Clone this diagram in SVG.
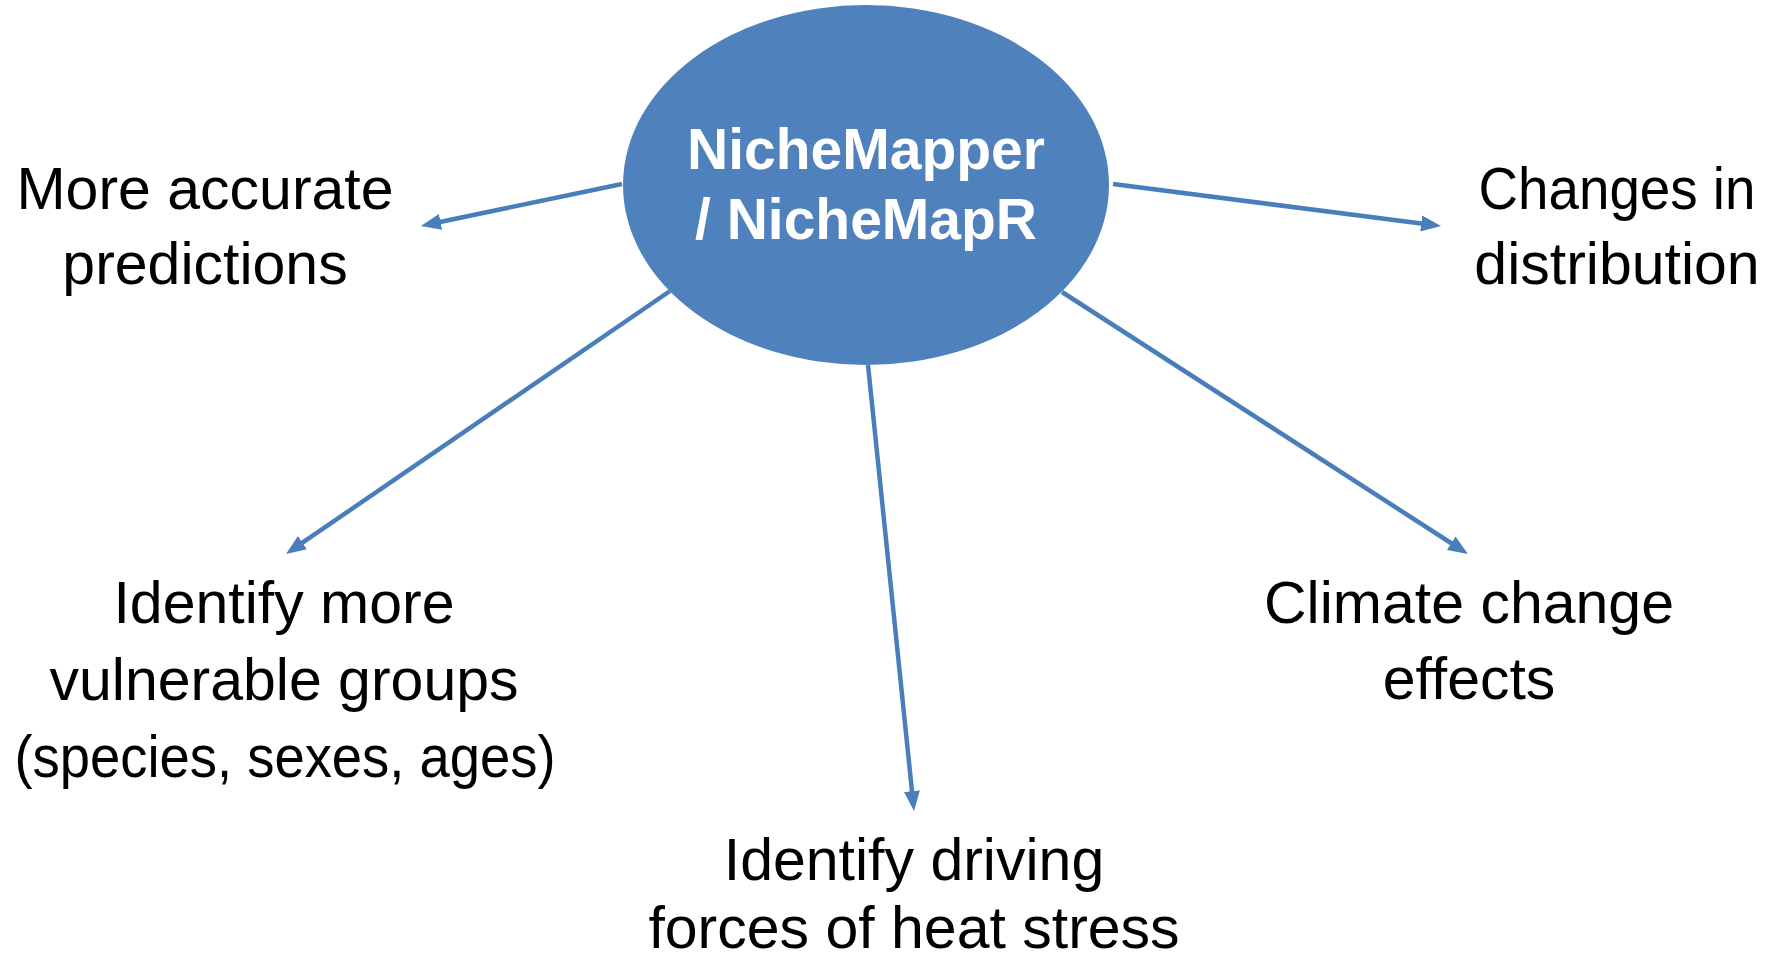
<svg xmlns="http://www.w3.org/2000/svg" width="1788" height="960" viewBox="0 0 1788 960">
<style>
.lbl{font-family:"Liberation Sans",Arial,sans-serif;font-size:59px;fill:#000;text-anchor:middle}
.ctr{font-family:"Liberation Sans",Arial,sans-serif;font-size:57px;font-weight:bold;fill:#fff;text-anchor:middle}
.con{stroke:#4A7EBB;stroke-width:4.5;fill:none}
</style>
<defs>
<marker id="ah" markerUnits="userSpaceOnUse" markerWidth="20" markerHeight="16" refX="8" refY="8" orient="auto" viewBox="0 0 20 16">
<path d="M0,0 L20,8 L0,16 z" fill="#4A7EBB"/>
</marker>
</defs>
<rect width="1788" height="960" fill="#fff"/>
<g id="connectors">
<line class="con" x1="622" y1="184" x2="432.7" y2="223.5" marker-end="url(#ah)"/>
<line class="con" x1="1113" y1="184" x2="1429.1" y2="224.5" marker-end="url(#ah)"/>
<line class="con" x1="670" y1="291" x2="295.9" y2="547.2" marker-end="url(#ah)"/>
<line class="con" x1="868" y1="365" x2="912.8" y2="799.1" marker-end="url(#ah)"/>
<line class="con" x1="1062" y1="292" x2="1457.9" y2="547.5" marker-end="url(#ah)"/>
</g>
<g id="center">
<ellipse cx="866" cy="185" rx="243" ry="180" fill="#4F81BD"/>
<text class="ctr" x="866" y="169">NicheMapper</text>
<text class="ctr" x="866" y="239">/ NicheMapR</text>
</g>
<g id="accurate">
<text class="lbl" x="205" y="209">More accurate</text>
<text class="lbl" x="205" y="284">predictions</text>
</g>
<g id="distribution">
<text class="lbl" x="1617" y="209" textLength="277" lengthAdjust="spacingAndGlyphs">Changes in</text>
<text class="lbl" x="1617" y="284">distribution</text>
</g>
<g id="vulnerable">
<text class="lbl" x="284" y="623">Identify more</text>
<text class="lbl" x="284" y="700">vulnerable groups</text>
<text class="lbl" x="285" y="777" textLength="541" lengthAdjust="spacingAndGlyphs">(species, sexes, ages)</text>
</g>
<g id="climate">
<text class="lbl" x="1469" y="623">Climate change</text>
<text class="lbl" x="1469" y="699">effects</text>
</g>
<g id="driving">
<text class="lbl" x="914" y="880">Identify driving</text>
<text class="lbl" x="914" y="948">forces of heat stress</text>
</g>
</svg>
